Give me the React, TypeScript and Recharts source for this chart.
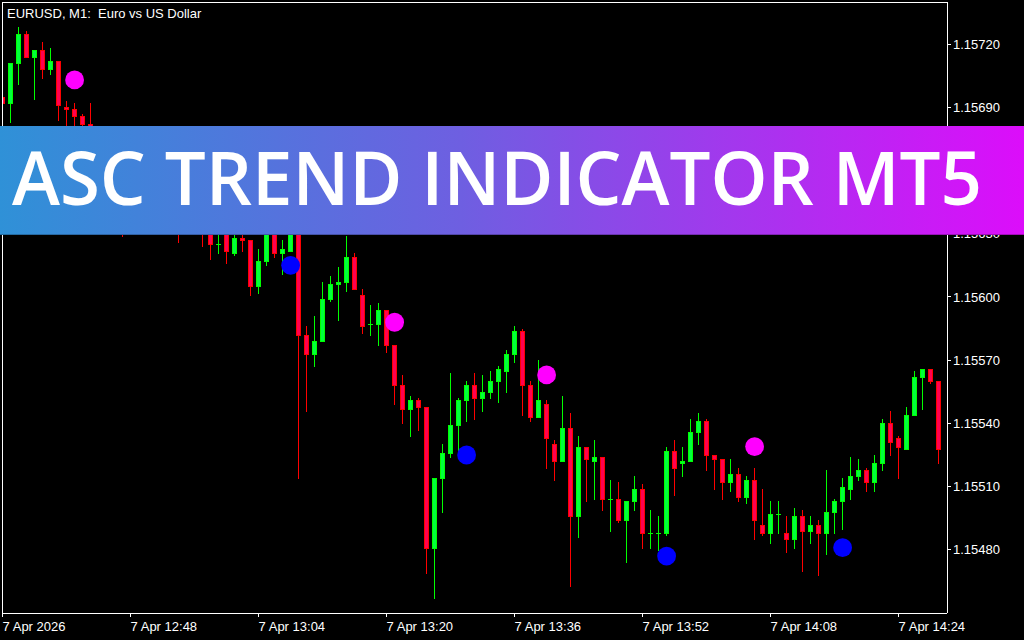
import React from "react";
import { ComposedChart, Bar, Scatter, XAxis, YAxis } from "recharts";

// EURUSD M1, 7 Apr 2026 12:32 .. 14:29 (one entry per minute)
const opens = [
  1.15695, 1.15692, 1.15711, 1.15725, 1.15714, 1.15717, 1.15708, 1.15712, 1.1569, 1.15689,
  1.15686, 1.15682, 1.15672, 1.15676, 1.15665, 1.15659, 1.15644, 1.15651, 1.15648, 1.15653,
  1.15642, 1.15647, 1.15638, 1.15633, 1.15639, 1.15636, 1.15631, 1.15625, 1.1563, 1.15621,
  1.15628, 1.15627, 1.15605, 1.15617, 1.15631, 1.15621, 1.15622, 1.15634, 1.15582, 1.15573,
  1.15579, 1.15599, 1.15606, 1.15607, 1.15619, 1.15601, 1.15587, 1.15587, 1.15594, 1.15577,
  1.15558, 1.15547, 1.15551, 1.15548, 1.15481, 1.15514, 1.15526, 1.15539, 1.15551, 1.15558,
  1.15552, 1.15555, 1.1556, 1.15565, 1.15573, 1.15584, 1.15558, 1.15543, 1.15549, 1.1553,
  1.15522, 1.15538, 1.15496, 1.15529, 1.15522, 1.15524, 1.15504, 1.15504, 1.15494, 1.15503,
  1.15509, 1.15488, 1.15488, 1.15488, 1.15527, 1.15521, 1.15522, 1.15536, 1.15541, 1.15525,
  1.15523, 1.15512, 1.15516, 1.15505, 1.15513, 1.15492, 1.15488, 1.15497, 1.15488, 1.15485,
  1.15496, 1.15489, 1.15492, 1.15488, 1.15498, 1.15503, 1.15509, 1.15515, 1.15518, 1.15512,
  1.15521, 1.1554, 1.15533, 1.15528, 1.15544, 1.15562, 1.15566, 1.1556,
];
const highs = [
  1.15696, 1.15711, 1.15728, 1.15726, 1.15717, 1.15721, 1.15718, 1.15712, 1.15693, 1.15692,
  1.15687, 1.15692, 1.15678, 1.15679, 1.1567, 1.15663, 1.15653, 1.15656, 1.15657, 1.15658,
  1.15649, 1.1565, 1.15644, 1.15641, 1.15642, 1.15639, 1.15634, 1.15633, 1.15635, 1.1563,
  1.1563, 1.15627, 1.15623, 1.15633, 1.15634, 1.15627, 1.15637, 1.15637, 1.15586, 1.15591,
  1.15607, 1.1561, 1.15614, 1.15629, 1.15621, 1.15604, 1.15596, 1.15597, 1.15594, 1.15577,
  1.15563, 1.15553, 1.15552, 1.15548, 1.15514, 1.1553, 1.15564, 1.15552, 1.1556, 1.15564,
  1.15563, 1.15565, 1.15567, 1.15575, 1.15586, 1.15585, 1.1556, 1.1557, 1.15551, 1.15532,
  1.15553, 1.15545, 1.15534, 1.15529, 1.15532, 1.15524, 1.15513, 1.15512, 1.15503, 1.15515,
  1.15511, 1.15499, 1.15496, 1.15529, 1.15532, 1.15529, 1.15542, 1.15545, 1.15542, 1.15525,
  1.15523, 1.15523, 1.15519, 1.15515, 1.15519, 1.15509, 1.15503, 1.15503, 1.15496, 1.155,
  1.15499, 1.15496, 1.15494, 1.15518, 1.15504, 1.15514, 1.15524, 1.15523, 1.15519, 1.15525,
  1.15542, 1.15546, 1.15534, 1.15548, 1.15565, 1.15566, 1.15566, 1.1556,
];
const lows = [
  1.15691, 1.15683, 1.15701, 1.15714, 1.15694, 1.15704, 1.15706, 1.15684, 1.15678, 1.15679,
  1.15675, 1.1567, 1.15669, 1.15663, 1.15657, 1.15629, 1.1564, 1.15646, 1.15645, 1.1564,
  1.15639, 1.15634, 1.15626, 1.15631, 1.15632, 1.15624, 1.15618, 1.15621, 1.15616, 1.1562,
  1.15622, 1.15601, 1.15602, 1.15615, 1.15619, 1.15611, 1.15622, 1.15514, 1.15546, 1.15567,
  1.15579, 1.15598, 1.15589, 1.15603, 1.15604, 1.15583, 1.15582, 1.15577, 1.15574, 1.15549,
  1.1554, 1.15534, 1.15537, 1.15469, 1.15457, 1.15498, 1.15524, 1.15527, 1.15541, 1.15542,
  1.15546, 1.15552, 1.1555, 1.15555, 1.15569, 1.15544, 1.15541, 1.15543, 1.15519, 1.15513,
  1.15522, 1.15463, 1.15486, 1.15503, 1.15504, 1.15499, 1.15489, 1.15493, 1.15474, 1.15499,
  1.15481, 1.15481, 1.1548, 1.15487, 1.15506, 1.15515, 1.15522, 1.1553, 1.15518, 1.15509,
  1.15504, 1.15508, 1.15503, 1.15502, 1.15485, 1.15487, 1.15483, 1.15488, 1.15479, 1.15481,
  1.1547, 1.15483, 1.15468, 1.15478, 1.15488, 1.1549, 1.15504, 1.15513, 1.15508, 1.15508,
  1.15518, 1.15525, 1.15514, 1.15528, 1.15544, 1.15547, 1.15559, 1.15521,
];
const closes = [
  1.15692, 1.15711, 1.15725, 1.15714, 1.15717, 1.15708, 1.15712, 1.15691, 1.15689, 1.15686,
  1.15682, 1.15672, 1.15676, 1.15665, 1.15659, 1.15644, 1.15651, 1.15648, 1.15653, 1.15642,
  1.15647, 1.15638, 1.15633, 1.15639, 1.15636, 1.15631, 1.15625, 1.15625, 1.15622, 1.15628,
  1.15627, 1.15605, 1.15617, 1.15631, 1.15621, 1.15623, 1.15634, 1.15582, 1.15573, 1.15579,
  1.15599, 1.15606, 1.15607, 1.15619, 1.15604, 1.15586, 1.15587, 1.15594, 1.15577, 1.15558,
  1.15547, 1.15551, 1.15548, 1.15481, 1.15514, 1.15526, 1.15539, 1.15551, 1.15558, 1.15552,
  1.15555, 1.1556, 1.15566, 1.15573, 1.15584, 1.15558, 1.15543, 1.15551, 1.15533, 1.15522,
  1.15538, 1.15496, 1.15529, 1.15523, 1.15524, 1.15504, 1.15504, 1.15494, 1.15503, 1.15509,
  1.15488, 1.15488, 1.15488, 1.15527, 1.15519, 1.15522, 1.15536, 1.15541, 1.15525, 1.15523,
  1.15512, 1.15516, 1.15505, 1.15513, 1.15494, 1.15488, 1.15497, 1.15497, 1.15485, 1.15496,
  1.15489, 1.15492, 1.15488, 1.15498, 1.15503, 1.1551, 1.15515, 1.15518, 1.15512, 1.15521,
  1.1554, 1.15531, 1.15529, 1.15544, 1.15562, 1.15566, 1.1556, 1.15528,
];

// ASC trend signals (bar index, price)
const sellIdx = [9, 49, 68, 94];
const sellPrice = [1.15703, 1.15588, 1.15563, 1.15529];
const buyIdx = [36, 58, 83, 105];
const buyPrice = [1.15615, 1.15525, 1.15477, 1.15481];

const timeTicks = [0, 16, 32, 48, 64, 80, 96, 112];
const timeLabels = [
  "7 Apr 2026",
  "7 Apr 12:48",
  "7 Apr 13:04",
  "7 Apr 13:20",
  "7 Apr 13:36",
  "7 Apr 13:52",
  "7 Apr 14:08",
  "7 Apr 14:24",
];
// 1.15660 sits fully under the banner, so it is left out
const priceTicks = [1.1548, 1.1551, 1.1554, 1.1557, 1.156, 1.1563, 1.1569, 1.1572];

const BULL = "#00ff00";
const BULL_BODY = "#00ff3c";
const BEAR = "#ff0000";
const BEAR_BODY = "#ff0050";
const AXIS_FONT = "'Liberation Sans', Arial, sans-serif";

const candles = opens.map((open, i) => ({
  idx: i,
  open,
  high: highs[i],
  low: lows[i],
  close: closes[i],
}));
const sellSignals = sellIdx.map((idx, i) => ({ idx, price: sellPrice[i] }));
const buySignals = buyIdx.map((idx, i) => ({ idx, price: buyPrice[i] }));

function Candle(props: any) {
  const { x, y, width, height, payload } = props;
  if (x == null || y == null || !payload) return null;
  const { open, close, high, low } = payload;
  const top = Math.min(y, y + height);
  const h = Math.abs(height);
  const toY = (v: number) => top + ((high - v) / (high - low)) * h;
  const col = Math.floor(x + width / 2);
  const up = close >= open;
  const line = up ? BULL : BEAR;
  const fill = up ? BULL_BODY : BEAR_BODY;
  const yHigh = Math.round(toY(high));
  const yLow = Math.round(toY(low));
  const yTop = Math.round(toY(Math.max(open, close)));
  const yBot = Math.round(toY(Math.min(open, close)));
  return (
    <g>
      <rect x={col} y={yHigh} width={1} height={Math.max(1, yLow - yHigh + 1)} fill={line} />
      {yBot - yTop < 1 ? (
        <rect x={col - 2} y={yTop} width={5} height={1} fill={line} />
      ) : (
        <>
          <rect x={col - 2} y={yTop} width={5} height={yBot - yTop + 1} fill={line} />
          {yBot - yTop > 1 && (
            <rect x={col - 1} y={yTop + 1} width={3} height={yBot - yTop - 1} fill={fill} />
          )}
        </>
      )}
    </g>
  );
}

function TimeTick({ x, y, payload }: any) {
  const label = timeLabels[timeTicks.indexOf(payload.value)];
  return (
    <text x={x} y={y + 12} fill="#fff" fontSize={13} fontFamily={AXIS_FONT} textAnchor="start">
      {label}
    </text>
  );
}

const dot = (color: string) => (p: any) =>
  <circle cx={p.cx} cy={p.cy} r={9.4} fill={color} />;

export default function App() {
  return (
    <div
      style={{
        position: "absolute",
        left: 0,
        top: 0,
        width: 1024,
        height: 640,
        background: "#000",
        overflow: "hidden",
      }}
    >
      <style>{`.recharts-cartesian-axis-line, .recharts-cartesian-axis-tick-line { shape-rendering: crispEdges; }`}</style>
      <ComposedChart
        width={1024}
        height={640}
        data={candles}
        margin={{ top: 2, right: 0, bottom: 0, left: 2 }}
      >
        <XAxis
          dataKey="idx"
          type="number"
          domain={[-0.075, 118.05]}
          allowDataOverflow
          ticks={timeTicks}
          interval={0}
          height={27}
          tickSize={4}
          stroke="#fff"
          tick={<TimeTick />}
        />
        <YAxis
          orientation="right"
          type="number"
          domain={[1.1545, 1.1574]}
          allowDataOverflow
          ticks={priceTicks}
          interval={0}
          width={77}
          tickSize={4}
          tickMargin={2}
          stroke="#fff"
          tick={{ fill: "#fff", fontSize: 13, fontFamily: AXIS_FONT }}
          tickFormatter={(v: number) => v.toFixed(5)}
        />
        <Bar
          dataKey={(d: any) => [d.low, d.high]}
          barSize={6}
          shape={Candle}
          isAnimationActive={false}
        />
        <Scatter data={sellSignals} dataKey="price" shape={dot("#ff00ff")} isAnimationActive={false} />
        <Scatter data={buySignals} dataKey="price" shape={dot("#0000ff")} isAnimationActive={false} />
      </ComposedChart>

      <svg
        width={1024}
        height={640}
        style={{ position: "absolute", left: 0, top: 0, pointerEvents: "none" }}
      >
        <defs>
          <linearGradient id="banner" x1="0" y1="0" x2="1" y2="0">
            <stop offset="0%" stopColor="#2f91d7" />
            <stop offset="45%" stopColor="#6e5fe1" />
            <stop offset="100%" stopColor="#dc0dfa" />
          </linearGradient>
        </defs>
        <line x1={2.5} y1={2} x2={2.5} y2={613} stroke="#fff" strokeWidth={1} />
        <line x1={2} y1={2.5} x2={947} y2={2.5} stroke="#fff" strokeWidth={1} />
        <text x={7} y={18} fill="#fff" fontSize={13} fontFamily={AXIS_FONT} style={{ whiteSpace: "pre" }}>
          {"EURUSD, M1:\u00a0 Euro vs US Dollar"}
        </text>
        <rect x={0} y={126} width={1024} height={109} fill="url(#banner)" />
        <rect x={0} y={234} width={1024} height={1} fill="#000" opacity={0.25} />
        <text
          x={12}
          y={205}
          fill="#fff"
          fontSize={74}
          fontWeight={600}
          fontFamily="'Open Sans', sans-serif"
          textLength={970}
          lengthAdjust="spacingAndGlyphs"
        >
          ASC TREND INDICATOR MT5
        </text>
      </svg>
    </div>
  );
}
